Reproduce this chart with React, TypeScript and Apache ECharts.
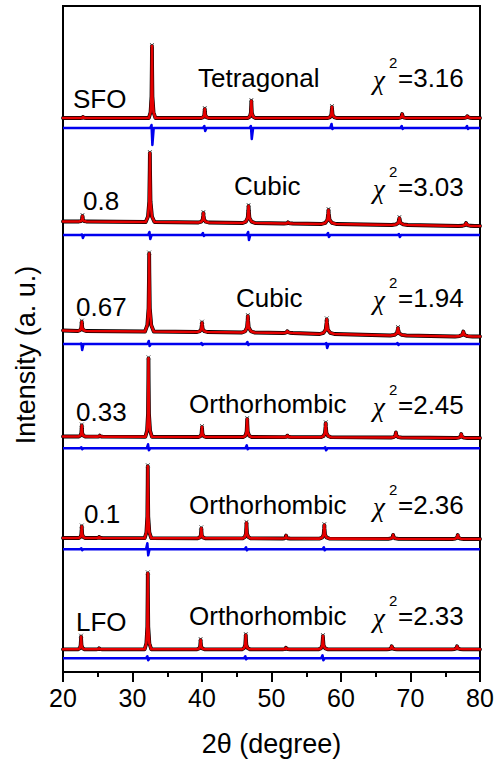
import React, { useEffect, useRef } from "react";
import * as echarts from "echarts";

// ---------- data ----------
const X_MIN = 20;
const X_MAX = 80;
const X_INTERVAL = 10;
const Y_MIN = 0;
const Y_MAX = 666;

const sampleNames = ["SFO", "0.8", "0.67", "0.33", "0.1", "LFO"];
const phaseNames = ["Tetragonal", "Cubic", "Cubic", "Orthorhombic", "Orthorhombic", "Orthorhombic"];
const chi2Values = ["3.16", "3.03", "1.94", "2.45", "2.36", "2.33"];

// background level of the fitted pattern at 2θ = 20 and 2θ = 80 (stack offsets)
const bgStart = [554, 450.5, 341.5, 235.5, 134, 22.7];
const bgEnd = [554, 446, 335.5, 234, 133, 22.7];
// offset of the difference curve
const diffOffset = [544, 437, 328, 223.7, 122.7, 13.7];

// peaks: [2θ, height, half-base width, local background]
const peaksSFO = [
  [22.9, 1.5, 0.4, 554],
  [32.8, 72, 0.45, 554],
  [40.4, 9, 0.5, 554],
  [47.1, 17, 0.5, 554],
  [58.7, 11, 0.6, 554],
  [68.8, 4, 0.6, 554],
  [78.2, 2.5, 0.7, 554],
];
const peaks08 = [
  [22.8, 5.5, 0.5, 450.5],
  [32.5, 69, 0.6, 450],
  [40.2, 9.5, 0.7, 449.5],
  [46.7, 17, 0.85, 449],
  [52.4, 1.5, 0.6, 448.5],
  [58.2, 14, 1.0, 448],
  [68.4, 7, 1.1, 447],
  [78.0, 3, 1.1, 446],
];
const peaks067 = [
  [22.7, 9.3, 0.55, 341],
  [32.4, 78, 0.6, 340.5],
  [40.0, 9.3, 0.7, 340],
  [46.6, 16.5, 0.85, 339.5],
  [52.3, 2.5, 0.7, 339],
  [57.95, 14.7, 1.0, 338],
  [68.2, 7.5, 1.1, 336.5],
  [77.6, 5, 1.2, 335.5],
];
const peaks033 = [
  [22.7, 11, 0.45, 235.5],
  [25.3, 1, 0.4, 235.4],
  [32.3, 78.5, 0.45, 235.2],
  [40.0, 10, 0.5, 235],
  [46.5, 18, 0.55, 235],
  [52.3, 2, 0.5, 234.9],
  [57.8, 14, 0.7, 234.8],
  [67.9, 5, 0.7, 234.5],
  [77.3, 4, 0.8, 234],
];
const peaks01 = [
  [22.7, 11.5, 0.45, 134],
  [25.2, 1, 0.4, 134],
  [32.2, 72, 0.45, 133.8],
  [39.9, 10, 0.5, 133.7],
  [46.4, 15.5, 0.55, 133.6],
  [52.1, 3, 0.5, 133.5],
  [57.6, 13.5, 0.65, 133.4],
  [67.5, 4, 0.7, 133.2],
  [76.8, 4, 0.8, 133],
];
const peaksLFO = [
  [22.6, 12.6, 0.45, 22.7],
  [25.2, 1, 0.4, 22.7],
  [32.2, 76, 0.45, 22.7],
  [39.8, 9.3, 0.5, 22.7],
  [46.3, 14.3, 0.55, 22.7],
  [52.1, 2, 0.5, 22.7],
  [57.4, 13.3, 0.6, 22.7],
  [67.3, 3, 0.7, 22.7],
  [76.7, 3, 0.8, 22.7],
];
const peakTables = [peaksSFO, peaks08, peaks067, peaks033, peaks01, peaksLFO];

// difference spikes: [2θ, up, down]
const diffSFO = [[32.8, 3, 17], [40.4, 2, 3], [47.1, 2, 11], [58.7, 4, 1], [68.8, 2, 1], [78.2, 2, 1]];
const diff08 = [[22.8, 0.5, 3], [32.5, 3, 4], [40.2, 2, 1], [46.7, 3, 5], [58.2, 2, 2], [68.4, 1, 2]];
const diff067 = [[22.7, 0.5, 6], [32.4, 3, 2], [40.0, 1, 1], [46.6, 2, 1], [57.95, 1, 4], [68.2, 1, 1]];
const diff033 = [[22.7, 1, 1], [32.3, 4, 2], [46.5, 3, 1], [57.8, 1, 2]];
const diff01 = [[22.7, 1, 1], [32.2, 6, 6], [46.4, 2, 1], [57.6, 2, 1]];
const diffLFO = [[32.2, 2, 2], [46.3, 2, 1], [57.4, 3, 2]];
const diffTables = [diffSFO, diff08, diff067, diff033, diff01, diffLFO];

// ---------- layout / style (not data) ----------
const sampleLabelPos = [[73, 99], [83, 201], [76, 307], [76, 412], [84, 514], [76, 622]];
const phaseLabelPos = [[198, 78], [234, 186], [236, 298], [189, 404], [189, 505], [189, 616]];
const chiLabelPos = [[373, 78], [373, 187], [373, 298], [373, 405], [373, 505], [373, 616]];

// peak profile shape: [offset in half-widths, fraction of height]
const PROFILE = [[-1, 0], [-0.45, 0.08], [-0.15, 0.3], [-0.04, 0.75], [0, 1], [0.04, 0.75], [0.15, 0.3], [0.5, 0.08], [1.1, 0]];
const SPIKE = [[-0.25, 0], [-0.06, 1], [0.06, -1], [0.25, 0]];

const FONT = "'Liberation Sans', Arial, sans-serif";

function buildCalc(i: number) {
  const pts: number[][] = [[X_MIN, bgStart[i]]];
  for (const [pos, h, w, bg] of peakTables[i]) {
    for (const [dx, f] of PROFILE) pts.push([pos + dx * w, bg + f * h]);
  }
  pts.push([X_MAX, bgEnd[i]]);
  return pts;
}

function buildDiff(i: number) {
  const off = diffOffset[i];
  const pts: number[][] = [[X_MIN, off]];
  for (const [pos, up, down] of diffTables[i]) {
    for (const [dx, s] of SPIKE) {
      const v = s > 0 ? off + up : s < 0 ? off - down : off;
      pts.push([pos + dx, v]);
    }
  }
  pts.push([X_MAX, off]);
  return pts;
}

function buildTops(i: number) {
  return peakTables[i].filter((p) => p[1] > 5).map(([pos, h, , bg]) => [pos, bg + h + 1]);
}

export default function App() {
  const ref = useRef<HTMLDivElement>(null);
  useEffect(() => {
    if (!ref.current) return;
    const chart = echarts.init(ref.current, null, { renderer: "svg" });
    const series: any[] = [];
    sampleNames.forEach((name, i) => {
      const calc = buildCalc(i);
      series.push({
        name: name + " obs",
        type: "line",
        data: calc,
        symbol: "none",
        lineStyle: { color: "#000", width: 3.8, join: "round", cap: "round" },
        z: 2,
      });
      series.push({
        name: name + " obs tops",
        type: "scatter",
        data: buildTops(i),
        symbol: "path://M0,0L10,10M10,0L0,10",
        symbolSize: 4,
        itemStyle: { color: "none", borderColor: "#444", borderWidth: 1 },
        z: 2,
      });
      series.push({
        name: name + " calc",
        type: "line",
        data: calc,
        symbol: "none",
        lineStyle: { color: "#e60000", width: 2.6, join: "round", cap: "round" },
        z: 3,
      });
      series.push({
        name: name + " diff",
        type: "line",
        data: buildDiff(i),
        symbol: "none",
        lineStyle: { color: "#0000ee", width: 2.5, join: "round" },
        z: 3,
      });
    });

    const graphics: any[] = [];
    sampleNames.forEach((name, i) => {
      graphics.push({
        type: "text",
        x: sampleLabelPos[i][0],
        y: sampleLabelPos[i][1],
        style: { text: name, font: `26px ${FONT}`, fill: "#000", align: "left", verticalAlign: "middle" },
      });
      graphics.push({
        type: "text",
        x: phaseLabelPos[i][0],
        y: phaseLabelPos[i][1],
        style: { text: phaseNames[i], font: `26px ${FONT}`, fill: "#000", align: "left", verticalAlign: "middle" },
      });
      const [cx, cy] = chiLabelPos[i];
      graphics.push({
        type: "text",
        x: cx,
        y: cy + 2,
        style: { text: "χ", font: `italic 27px 'Liberation Serif', 'DejaVu Serif', serif`, fill: "#000", align: "left", verticalAlign: "middle" },
      });
      graphics.push({
        type: "text",
        x: cx + 16,
        y: cy - 16,
        style: { text: "2", font: `15px ${FONT}`, fill: "#000", align: "left", verticalAlign: "middle" },
      });
      graphics.push({
        type: "text",
        x: cx + 25,
        y: cy,
        style: { text: "=" + chi2Values[i], font: `26px ${FONT}`, fill: "#000", align: "left", verticalAlign: "middle" },
      });
    });
    graphics.push({
      type: "text",
      x: 26,
      y: 355,
      rotation: Math.PI / 2,
      style: { text: "Intensity (a. u.)", font: `27px ${FONT}`, fill: "#000", align: "center", verticalAlign: "middle" },
    });

    chart.setOption({
      animation: false,
      backgroundColor: "#fff",
      grid: { left: 63, right: 17, top: 6, bottom: 91, show: true, borderColor: "#000", borderWidth: 2, backgroundColor: "transparent" },
      xAxis: {
        type: "value",
        min: X_MIN,
        max: X_MAX,
        interval: X_INTERVAL,
        name: "2θ (degree)",
        nameLocation: "middle",
        nameGap: 58,
        nameTextStyle: { fontSize: 27, color: "#000", fontFamily: FONT },
        axisLine: { show: true, lineStyle: { color: "#000", width: 2 } },
        axisTick: { show: true, length: 10, lineStyle: { color: "#000", width: 2 } },
        minorTick: { show: true, splitNumber: 2, length: 5, lineStyle: { color: "#000", width: 2 } },
        axisLabel: { fontSize: 25, color: "#000", fontFamily: FONT, margin: 13 },
        splitLine: { show: false },
      },
      yAxis: {
        type: "value",
        min: Y_MIN,
        max: Y_MAX,
        axisLine: { show: false },
        axisTick: { show: false },
        axisLabel: { show: false },
        splitLine: { show: false },
      },
      series,
      graphic: graphics,
    });
    return () => chart.dispose();
  }, []);
  return <div ref={ref} style={{ position: "fixed", left: 0, top: 0, width: 497, height: 763 }} />;
}
